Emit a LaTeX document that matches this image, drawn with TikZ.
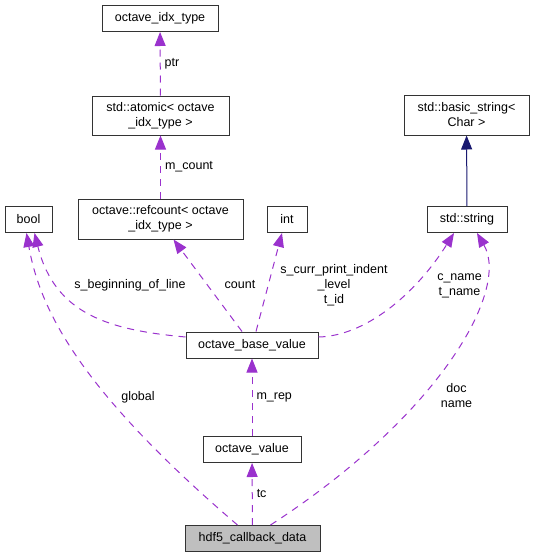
\documentclass[tikz,border=0pt]{standalone}
\usepackage{fontspec}
\setmainfont{Liberation Sans}
\usepackage{xcolor}
\usepackage{tikz}
\usetikzlibrary{positioning, arrows.meta}
\definecolor{usepurple}{HTML}{9A32CD}
\definecolor{inhblue}{HTML}{191970}
\definecolor{mainfill}{HTML}{BFBFBF}

\begin{document}
\begin{tikzpicture}[x=1pt,y=-1pt]
					\tikzstyle{cls}=[rectangle,draw=black!80,line width=1pt,inner sep=2pt,minimum height=26pt,align=center,font=\fontsize{12.5}{15}\selectfont]
					\tikzstyle{lbl}=[inner sep=0pt,align=center,font=\fontsize{12.5}{15}\selectfont]
					\tikzstyle{uses}=[draw=usepurple,line width=1pt,dash pattern=on 7pt off 6pt,-{Triangle[length=14pt,width=11pt]}]
					\tikzstyle{inherits}=[draw=inhblue,line width=1pt,-{Triangle[length=14pt,width=11pt]}]
					\useasboundingbox (0,0) rectangle (536,557);
					\node[cls,minimum width=116pt](idx) at (160,18.5) {octave\_idx\_type};
					\node[cls,minimum width=137pt,minimum height=39pt](atomic) at (160.5,115.5) {std::atomic< octave\\\_idx\_type >};
					\node[cls,minimum width=165pt,minimum height=40pt](refcnt) at (160.5,219) {octave::refcount< octave\\\_idx\_type >};
					\node[cls,minimum width=47pt](boolt) at (28.5,219.5) {bool};
					\node[cls,minimum width=40pt](intt) at (287,219.5) {int};
					\node[cls,minimum width=80pt](str) at (467,219.5) {std::string};
					\node[cls,minimum width=125pt,minimum height=40pt](bstr) at (466.5,115) {std::basic\_string<\\Char >};
					\node[cls,minimum width=132pt](base) at (252,345) {octave\_base\_value};
					\node[cls,minimum width=98pt](oval) at (252,449.5) {octave\_value};
					\node[cls,fill=mainfill,minimum width=135pt](cbdata) at (252.5,538.5) {hdf5\_callback\_data};
					\path
						(atomic) edge[uses] node[lbl,right=4pt](lptr) {ptr} (idx)
						(refcnt) edge[uses] node[lbl,right=4pt](lmcount) {m\_count} (atomic)
						(oval) edge[uses] node[lbl,right=4pt](lmrep) {m\_rep} (base)
						(cbdata) edge[uses] node[lbl,right=4pt](ltc) {tc} (oval)
						([xshift=-10pt]base.north) edge[uses] ([xshift=13pt]refcnt.south)
						([xshift=4pt]base.north) edge[uses] ([xshift=-5pt]intt.south)
						(str) edge[inherits] (bstr);
					\draw[uses] ([yshift=8pt]base.west) .. controls (110,330) and (55,315) .. ([xshift=6pt]boolt.south);
					\draw[uses] ([xshift=-15pt]cbdata.north) .. controls (80,390) and (40,310) .. ([xshift=-2pt]boolt.south);
					\draw[uses] ([yshift=8pt]base.east) .. controls (365,336) and (415,295) .. ([xshift=-13pt]str.south);
					\draw[uses] ([xshift=18pt]cbdata.north) .. controls (440,415) and (510,290) .. ([xshift=10pt]str.south);
					\node[lbl](lcount) at (240,285) {count};
					\node[lbl](lbeg) at (130,285) {s\_beginning\_of\_line};
					\node[lbl](lindent) at (334,285.5) {s\_curr\_print\_indent\\\_level\\t\_id};
					\node[lbl](lcname) at (459.5,285.5) {c\_name\\t\_name};
					\node[lbl](ldoc) at (456.5,396) {doc\\name};
					\node[lbl](lglobal) at (138,397) {global};
				\end{tikzpicture}
\end{document}
